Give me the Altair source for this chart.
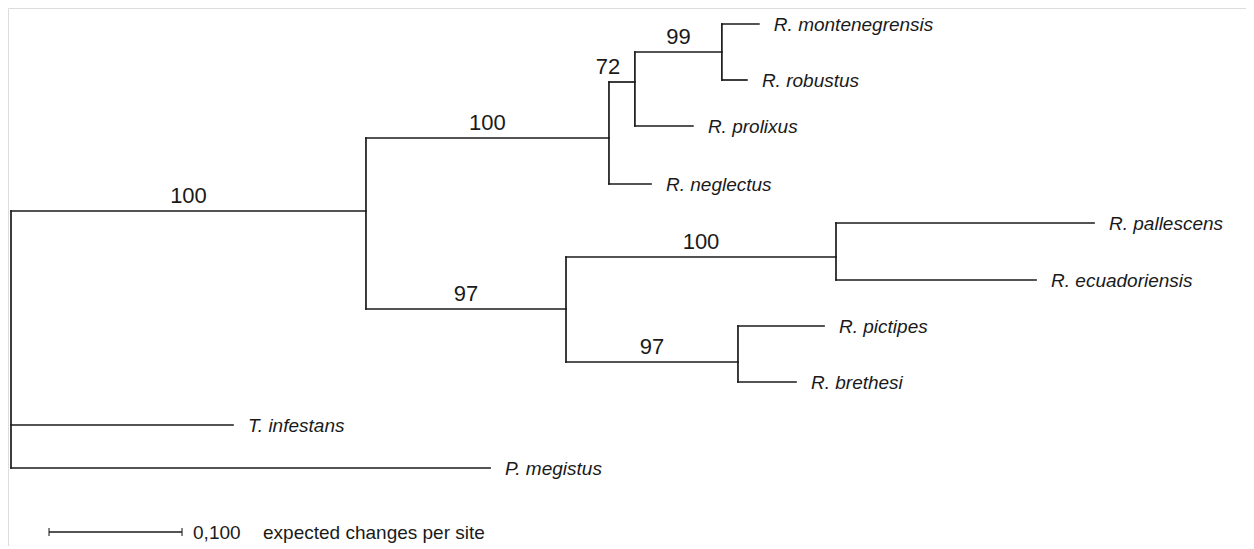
import altair as alt
import pandas as pd

# ---- tree data ----
node_names = ["root", "A", "N", "N72", "N99",
              "R. montenegrensis", "R. robustus", "R. prolixus", "R. neglectus",
              "B", "C", "R. pallescens", "R. ecuadoriensis",
              "D", "R. pictipes", "R. brethesi",
              "T. infestans", "P. megistus"]
parents = ["", "root", "A", "N", "N72",
           "N99", "N99", "N72", "N",
           "A", "B", "C", "C",
           "B", "D", "D",
           "root", "root"]
branch_lengths = [0.0, 0.2669, 0.1827, 0.0195, 0.0654,
                  0.0278, 0.0188, 0.0436, 0.0316,
                  0.1504, 0.2030, 0.1940, 0.1504,
                  0.1293, 0.0647, 0.0436,
                  0.1669, 0.3602]
node_rows = [340, 211, 138, 82, 52,
             24, 80, 126, 184,
             309, 257, 223, 280,
             362, 326, 382,
             425, 468]
support = ["", "100", "100", "72", "99",
           "", "", "", "",
           "97", "100", "", "",
           "97", "", "",
           "", ""]

scale_bar_start = 0.0286
scale_bar_length = 0.100
scale_bar_row = 532
scale_bar_value = "0,100"
scale_bar_text = "expected changes per site"

# ---- derive geometry from the tree ----
idx = {n: i for i, n in enumerate(node_names)}
xpos = {}
def depth(n):
    if n in xpos:
        return xpos[n]
    i = idx[n]
    p = parents[i]
    xpos[n] = branch_lengths[i] + (depth(p) if p else 0.0)
    return xpos[n]
for n in node_names:
    depth(n)

h_rows, v_rows, leaf_rows, sup_rows = [], [], [], []
for i, n in enumerate(node_names):
    p = parents[i]
    if p:
        h_rows.append({"x": xpos[p], "x2": xpos[n], "y": node_rows[i]})
        if support[i]:
            sup_rows.append({"x": (xpos[p] + xpos[n]) / 2, "y": node_rows[i],
                             "t": support[i], "short": n == "N72"})
    kids = [node_rows[j] for j, q in enumerate(parents) if q == n]
    if kids:
        v_rows.append({"x": xpos[n], "y": min(kids), "y2": max(kids)})
    else:
        leaf_rows.append({"x": xpos[n], "y": node_rows[i], "t": n})

h_df = pd.DataFrame(h_rows)
v_df = pd.DataFrame(v_rows)
leaf_df = pd.DataFrame(leaf_rows)
sup_df = pd.DataFrame(sup_rows)
bar_df = pd.DataFrame([{"x": scale_bar_start, "x2": scale_bar_start + scale_bar_length,
                        "y": scale_bar_row, "v": scale_bar_value, "t": scale_bar_text}])

W, H = 1238, 538
px_per_unit = 1330.0
x0 = -3 / px_per_unit
xs = alt.Scale(domain=[x0, x0 + W / px_per_unit], range=[0, W], nice=False, zero=False)
ys = alt.Scale(domain=[8, 8 + H], range=[0, H], nice=False, zero=False)

X = lambda f="x": alt.X(f"{f}:Q", scale=xs, axis=None)
Y = lambda f="y": alt.Y(f"{f}:Q", scale=ys, axis=None)

LC = "#1a1a1a"
SW = 1.7
FONT = "Liberation Sans"

horiz = alt.Chart(h_df).mark_rule(color=LC, strokeWidth=SW, strokeCap="square").encode(
    x=X(), x2="x2:Q", y=Y())
vert = alt.Chart(v_df).mark_rule(color=LC, strokeWidth=SW, strokeCap="square").encode(
    x=X(), y=Y(), y2="y2:Q")
leaves = alt.Chart(leaf_df).mark_text(align="left", baseline="middle", dx=15, dy=1,
                                      font=FONT, fontSize=19, fontStyle="italic",
                                      color=LC).encode(x=X(), y=Y(), text="t:N")
sup_main = alt.Chart(sup_df).transform_filter("!datum.short").mark_text(
    align="center", baseline="bottom", dy=-3, font=FONT, fontSize=22, color=LC
).encode(x=X(), y=Y(), text="t:N")
sup_short = alt.Chart(sup_df).transform_filter("datum.short").mark_text(
    align="center", baseline="bottom", dy=-3, dx=-14, font=FONT, fontSize=22, color=LC
).encode(x=X(), y=Y(), text="t:N")

bar = alt.Chart(bar_df).mark_rule(color=LC, strokeWidth=SW).encode(x=X(), x2="x2:Q", y=Y())
tick_l = alt.Chart(bar_df).mark_tick(color=LC, orient="vertical", size=8, thickness=1.5).encode(
    x=X(), y=Y())
tick_r = alt.Chart(bar_df).mark_tick(color=LC, orient="vertical", size=8, thickness=1.5).encode(
    x=X("x2"), y=Y())
bar_val = alt.Chart(bar_df).mark_text(align="left", baseline="middle", dx=11, dy=1,
                                      font=FONT, fontSize=19, color=LC).encode(
    x=X("x2"), y=Y(), text="v:N")
bar_txt = alt.Chart(bar_df).mark_text(align="left", baseline="middle", dx=81, dy=1,
                                      font=FONT, fontSize=19, color=LC).encode(
    x=X("x2"), y=Y(), text="t:N")

chart = alt.layer(horiz, vert, leaves, sup_main, sup_short, bar, tick_l, tick_r,
                  bar_val, bar_txt).properties(
    width=W, height=H, padding=0, autosize=alt.AutoSizeParams(type="none")
).configure_view(strokeWidth=0, stroke="#ffffff", fill="#ffffff").configure(background="#ffffff")

chart.save("out.html", embed_options={"renderer": "svg", "actions": False})
